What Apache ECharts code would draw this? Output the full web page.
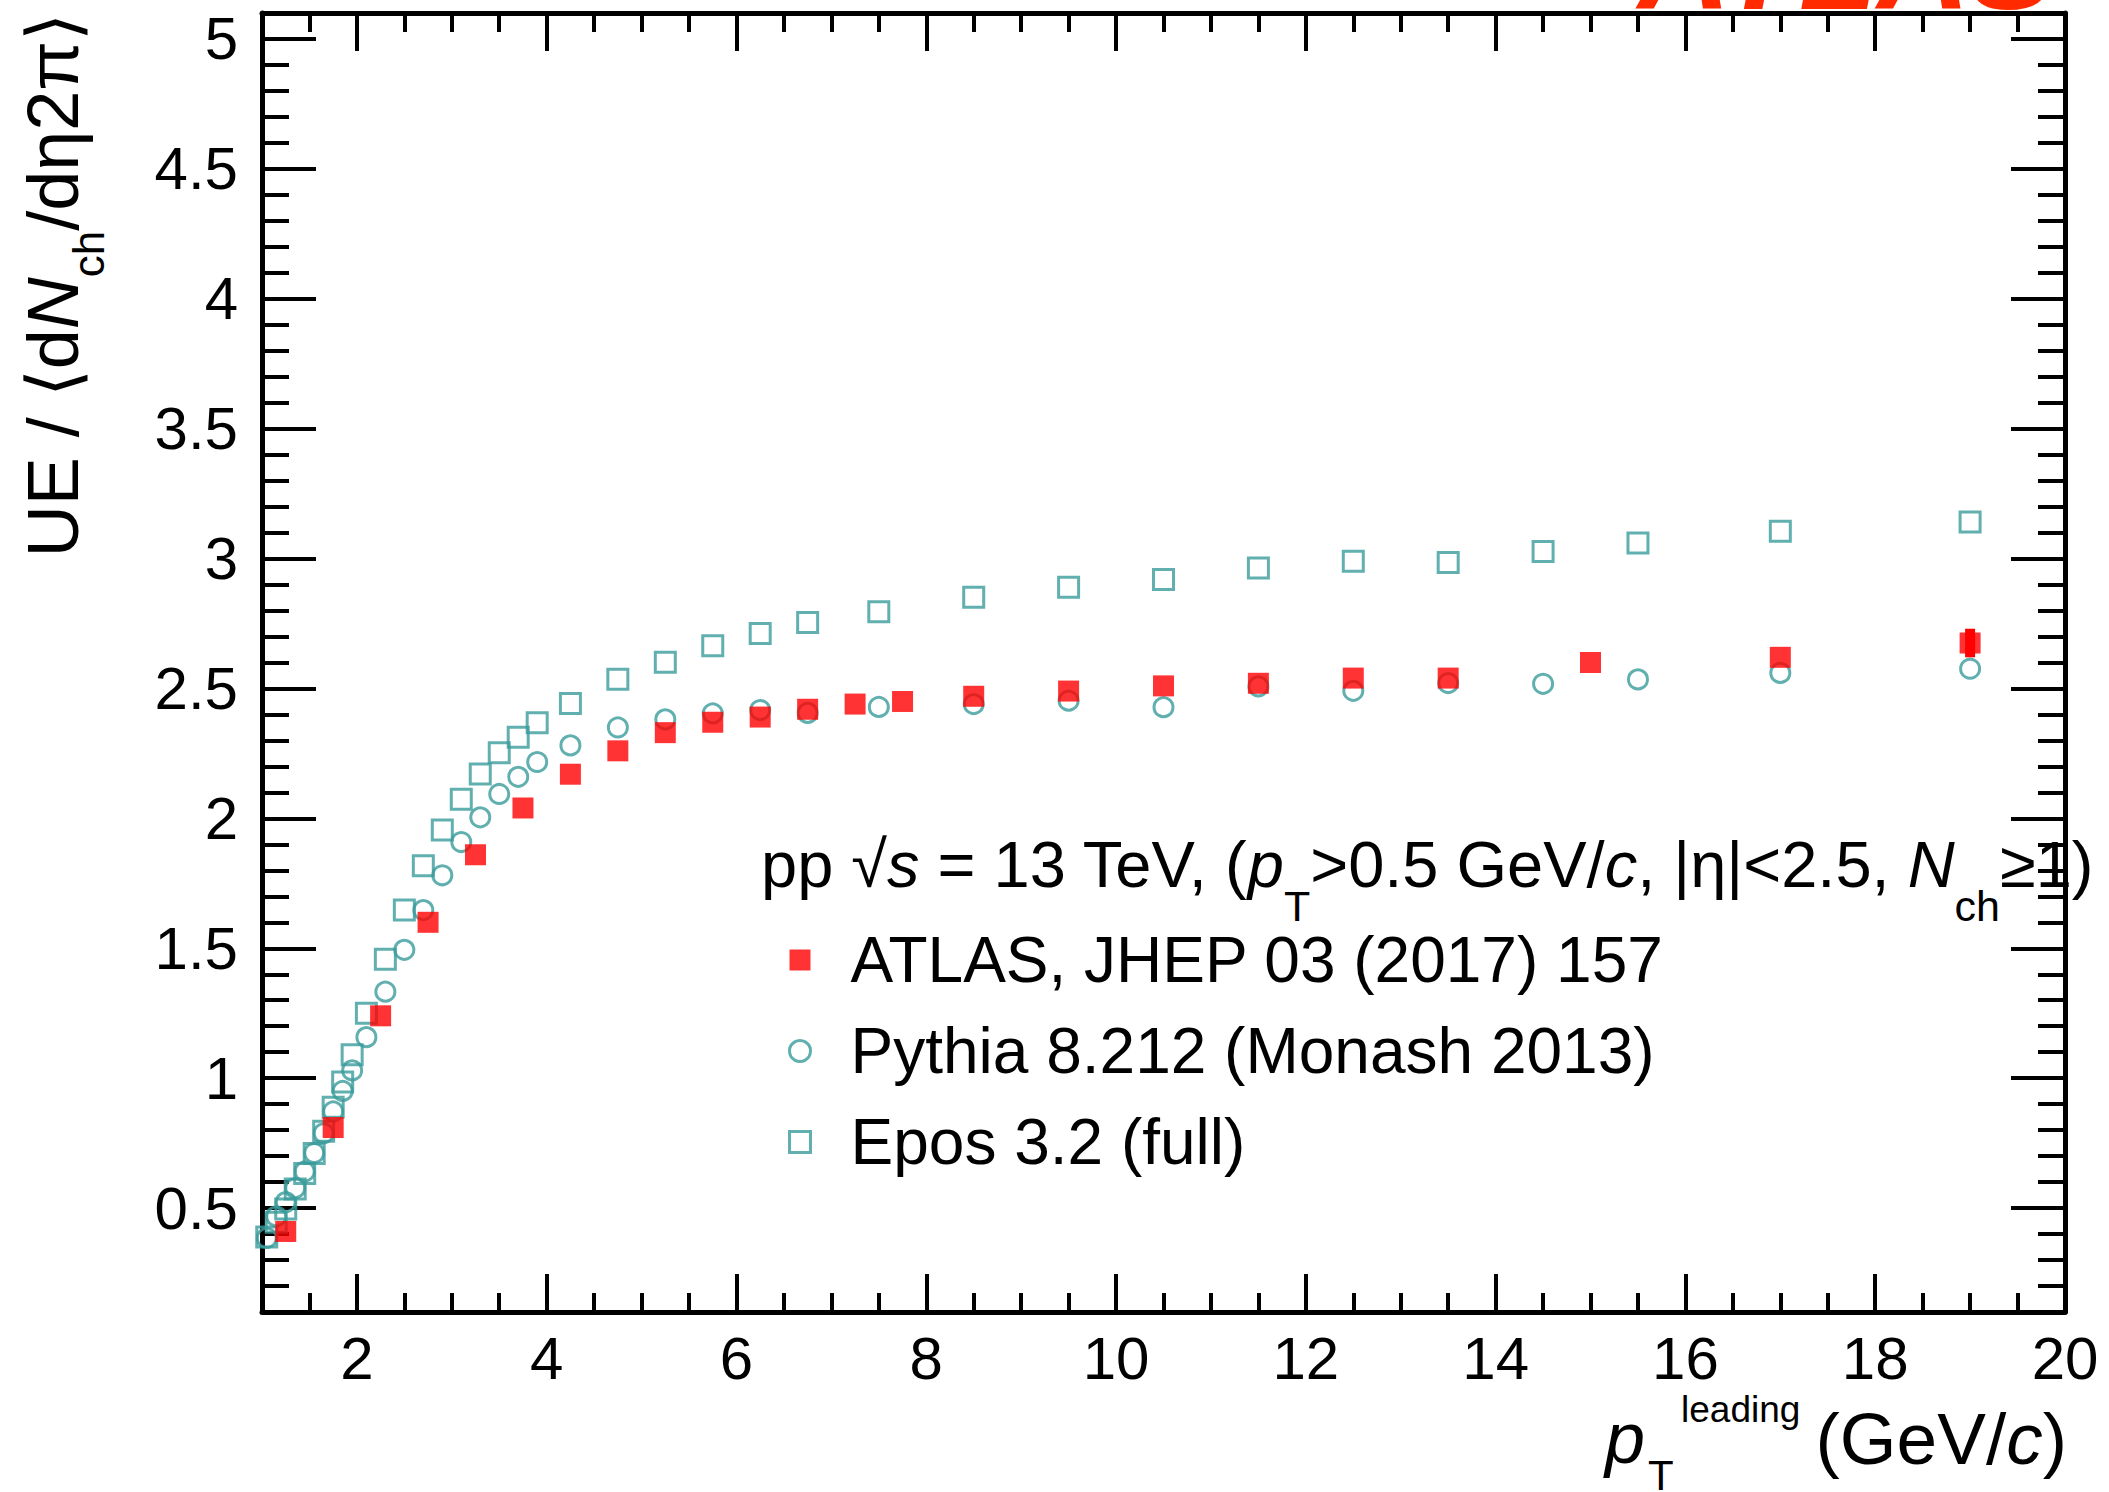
<!DOCTYPE html>
<html>
<head>
<meta charset="utf-8">
<script src="https://cdn.jsdelivr.net/npm/echarts@6/dist/echarts.min.js"></script>
<style>
html,body{margin:0;padding:0;background:#fff;}
#c{width:2109px;height:1492px;}
</style>
</head>
<body>
<div id="c"></div>
<script>
// ---------------- data ----------------
const atlasX = [1.25,1.75,2.25,2.75,3.25,3.75,4.25,4.75,5.25,5.75,6.25,6.75,7.25,7.75,8.5,9.5,10.5,11.5,12.5,13.5,15,17,19];
const atlasY = [0.41,0.81,1.24,1.60,1.86,2.04,2.17,2.26,2.33,2.37,2.39,2.42,2.44,2.45,2.47,2.49,2.51,2.52,2.54,2.54,2.60,2.62,2.675];
const atlasErr = [0,0,0,0,0,0,0,0,0,0,0,0,0,0,0,0,0,0,0,0,0,0,0.055];

const modelX = [1.05,1.15,1.25,1.35,1.45,1.55,1.65,1.75,1.85,1.95,2.1,2.3,2.5,2.7,2.9,3.1,3.3,3.5,3.7,3.9,4.25,4.75,5.25,5.75,6.25,6.75,7.5,8.5,9.5,10.5,11.5,12.5,13.5,14.5,15.5,17,19];
const pythiaY = [0.385,0.468,0.523,0.577,0.641,0.712,0.788,0.872,0.951,1.03,1.158,1.333,1.494,1.647,1.781,1.909,2.004,2.094,2.160,2.217,2.281,2.350,2.381,2.404,2.417,2.406,2.429,2.440,2.453,2.428,2.508,2.491,2.521,2.518,2.535,2.560,2.576];
const eposY = [0.389,0.445,0.496,0.573,0.633,0.71,0.796,0.888,0.985,1.09,1.25,1.458,1.647,1.818,1.955,2.074,2.171,2.253,2.312,2.368,2.442,2.536,2.601,2.664,2.712,2.754,2.795,2.851,2.890,2.919,2.964,2.990,2.985,3.027,3.060,3.105,3.141];

const xMajorTicks = [2,4,6,8,10,12,14,16,18,20];
const yMajorTicks = [0.5,1,1.5,2,2.5,3,3.5,4,4.5,5];

const seriesNames = ['ATLAS, JHEP 03 (2017) 157','Pythia 8.212 (Monash 2013)','Epos 3.2 (full)'];

// ---------------- styling ----------------
const TEAL = '#3a9b9b';
const RED = '#ff0000';
const FONT = '"Liberation Sans", Arial, Helvetica, sans-serif';

const chart = echarts.init(document.getElementById('c'), null, {renderer:'svg', width:2109, height:1492});

function xAx(pos, major, labels){
  const a = {
    type:'value', gridIndex:0, position:pos, min:1, max:20,
    axisLine:{show:!major, onZero:false, lineStyle:{color:'#000', width:5}},
    axisTick:{show:true, inside:true, length: major?38:19, lineStyle:{color:'#000', width:4}},
    axisLabel:{show:false},
    splitLine:{show:false}
  };
  if (major) { a.axisTick.customValues = xMajorTicks; } else { a.interval = 0.5; }
  if (labels) {
    a.axisLabel = {show:true, customValues:xMajorTicks, fontSize:60, fontFamily:FONT, color:'#000', margin:16};
  }
  return a;
}
function yAx(pos, major, labels){
  const a = {
    type:'value', gridIndex:0, position:pos, min:0.1, max:5.1,
    axisLine:{show:!major, onZero:false, lineStyle:{color:'#000', width:5}},
    axisTick:{show:true, inside:true, length: major?54:27, lineStyle:{color:'#000', width:4}},
    axisLabel:{show:false},
    splitLine:{show:false}
  };
  if (major) { a.axisTick.customValues = yMajorTicks; } else { a.interval = 0.1; }
  if (labels) {
    a.axisLabel = {show:true, customValues:yMajorTicks, fontSize:60, fontFamily:FONT, color:'#000', margin:24};
  }
  return a;
}

const option = {
  animation:false,
  backgroundColor:'#fff',
  grid:{left:262, right:44, top:13, bottom:180, containLabel:false, outerBoundsMode:'none'},
  xAxis:[xAx('bottom',false,false), xAx('bottom',true,true), xAx('top',false,false), xAx('top',true,false)],
  yAxis:[yAx('left',false,false), yAx('left',true,true), yAx('right',false,false), yAx('right',true,false)],
  legend:{
    orient:'vertical', left:783, top:920, itemWidth:21, itemHeight:21, itemGap:21,
    selectedMode:false,
    textStyle:{fontSize:64, fontFamily:FONT, color:'#000', lineHeight:70, padding:[0,0,0,35]},
    data:[
      {name:seriesNames[0], icon:'rect', itemStyle:{color:RED, borderWidth:0}},
      {name:seriesNames[1], icon:'circle', itemStyle:{color:'rgba(0,0,0,0)', borderColor:TEAL, borderWidth:3}},
      {name:seriesNames[2], icon:'rect', itemStyle:{color:'rgba(0,0,0,0)', borderColor:TEAL, borderWidth:3}}
    ]
  },
  series:[
    {
      name:seriesNames[2], type:'scatter', xAxisIndex:0, yAxisIndex:0,
      data: modelX.map((x,i)=>[x, eposY[i]]),
      symbol:'rect', symbolSize:20,
      itemStyle:{color:'rgba(0,0,0,0)', borderColor:TEAL, borderWidth:3},
      emphasis:{disabled:true}, z:2
    },
    {
      name:seriesNames[1], type:'scatter', xAxisIndex:0, yAxisIndex:0,
      data: modelX.map((x,i)=>[x, pythiaY[i]]),
      symbol:'circle', symbolSize:19,
      itemStyle:{color:'rgba(0,0,0,0)', borderColor:TEAL, borderWidth:3},
      emphasis:{disabled:true}, z:3
    },
    {
      name:'ATLAS error', type:'custom', xAxisIndex:0, yAxisIndex:0,
      data: atlasX.map((x,i)=>[x, atlasY[i]-atlasErr[i], atlasY[i]+atlasErr[i]]),
      renderItem:function(params, api){
        const x = api.value(0), lo = api.value(1), hi = api.value(2);
        if (hi - lo <= 0) return null;
        const p1 = api.coord([x, lo]), p2 = api.coord([x, hi]);
        return {type:'rect', shape:{x:p1[0]-5, y:p2[1], width:10, height:p1[1]-p2[1]}, style:{fill:RED}};
      },
      z:4, silent:true
    },
    {
      name:seriesNames[0], type:'scatter', xAxisIndex:0, yAxisIndex:0,
      data: atlasX.map((x,i)=>[x, atlasY[i]]),
      symbol:'rect', symbolSize:21,
      itemStyle:{color:RED},
      emphasis:{disabled:true}, z:5
    }
  ],
  graphic:[
    // y axis title (rotated)
    {
      type:'text', x:89, y:13, rotation:Math.PI/2, silent:true,
      style:{
        text:'{m|UE / ⟨d}{i|N}{s|ch}{m|/dη2π⟩}',
        align:'right', verticalAlign:'bottom',
        rich:{
          m:{fontSize:72, lineHeight:72, fontFamily:FONT, color:'#000', verticalAlign:'top'},
          i:{fontSize:72, lineHeight:72, fontFamily:FONT, fontStyle:'italic', color:'#000', verticalAlign:'top'},
          s:{fontSize:44, lineHeight:44, fontFamily:FONT, color:'#000', verticalAlign:'top', padding:[49,0,0,0]}
        }
      }
    },
    // legend header
    {
      type:'text', x:761, y:832, silent:true,
      style:{
        text:'{m|pp √}{i|s}{m| = 13 TeV, (}{i|p}{s|T}{m|>0.5 GeV/}{i|c}{m|, |η|<2.5, }{i|N}{s|ch}{m|≥1)}',
        align:'left', verticalAlign:'top',
        rich:{
          m:{fontSize:65, lineHeight:65, fontFamily:FONT, color:'#000', verticalAlign:'top'},
          i:{fontSize:65, lineHeight:65, fontFamily:FONT, fontStyle:'italic', color:'#000', verticalAlign:'top'},
          s:{fontSize:43, lineHeight:43, fontFamily:FONT, color:'#000', verticalAlign:'top', padding:[52,0,0,0]}
        }
      }
    },
    // x axis title pieces
    {type:'text', x:1605, y:1438, silent:true, style:{text:'p', fontSize:72, fontFamily:FONT, fontStyle:'italic', fill:'#000', align:'left', verticalAlign:'middle'}},
    {type:'text', x:1648, y:1475, silent:true, style:{text:'T', fontSize:42, fontFamily:FONT, fill:'#000', align:'left', verticalAlign:'middle'}},
    {type:'text', x:1681, y:1409, silent:true, style:{text:'leading', fontSize:37, fontFamily:FONT, fill:'#000', align:'left', verticalAlign:'middle'}},
    {
      type:'text', x:2067, y:1438, silent:true,
      style:{
        text:'{m|(GeV/}{i|c}{m|)}', align:'right', verticalAlign:'middle',
        rich:{
          m:{fontSize:73, lineHeight:73, fontFamily:FONT, color:'#000'},
          i:{fontSize:73, lineHeight:73, fontFamily:FONT, fontStyle:'italic', color:'#000'}
        }
      }
    },
    // red label cut by the top edge
    {type:'text', x:2055, y:-36, silent:true, style:{text:'ATLAS', fontSize:128, fontFamily:FONT, fontWeight:'bold', fontStyle:'italic', fill:'#ff2a00', align:'right', verticalAlign:'middle'}}
  ]
};
chart.setOption(option);
</script>
</body>
</html>
